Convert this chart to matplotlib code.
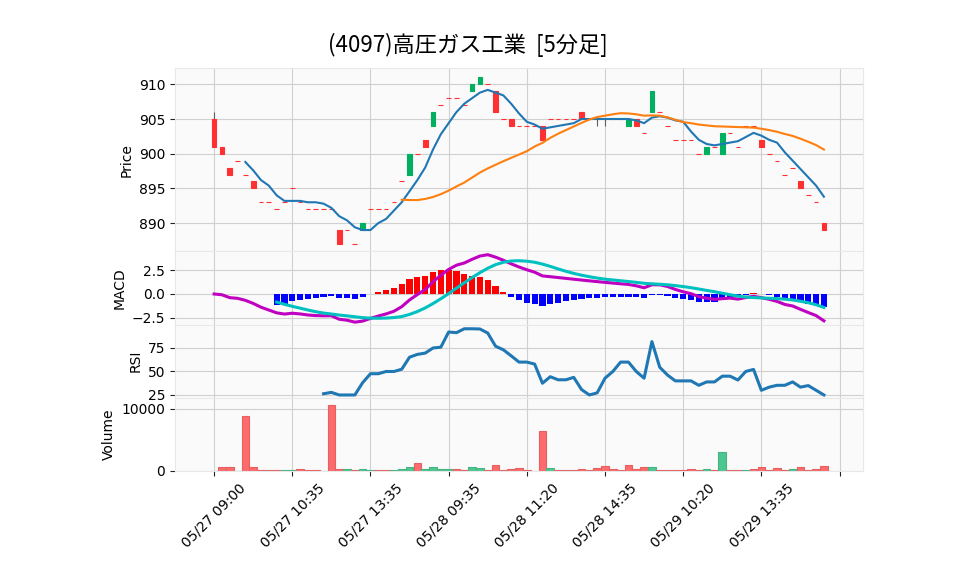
import numpy as np
import pandas as pd
import matplotlib
matplotlib.use('Agg')
import matplotlib.pyplot as plt

plt.rcParams['font.family'] = ['DejaVu Sans', 'Noto Sans CJK JP']

title = '(4097)高圧ガス工業  [5分足]'
tick_labels = ['05/27 09:00', '05/27 10:35', '05/27 13:35', '05/28 09:35',
               '05/28 11:20', '05/28 14:35', '05/29 10:20', '05/29 13:35']

# 5-minute bars
opens = [905, 901, 898, 899, 897, 896, 893, 893, 892, 893,
         895, 893, 892, 892, 892, 892, 889, 889, 887, 889,
         892, 892, 892, 893, 896, 897, 900, 902, 904, 907,
         908, 908, 907, 909, 910, 910, 909, 905, 905, 904,
         904, 904, 904, 905, 905, 905, 905, 906, 905, 905,
         905, 905, 905, 904, 905, 903, 906, 906, 904, 902,
         902, 902, 900, 900, 901, 900, 903, 901, 904, 904,
         902, 900, 899, 897, 898, 896, 894, 893, 890]
closes = [901, 900, 897, 899, 897, 895, 893, 893, 892, 893,
          895, 893, 892, 892, 892, 892, 887, 889, 887, 890,
          892, 892, 892, 893, 896, 900, 900, 901, 906, 907,
          908, 908, 907, 910, 911, 910, 906, 905, 904, 904,
          904, 904, 902, 905, 905, 905, 905, 905, 905, 905,
          905, 905, 905, 905, 904, 903, 909, 906, 904, 902,
          902, 902, 900, 901, 901, 903, 903, 901, 904, 904,
          901, 900, 899, 897, 898, 895, 894, 893, 889]
highs = [906, 901, 898, 899, 897, 896, 893, 893, 892, 893,
         895, 893, 892, 892, 892, 892, 889, 889, 887, 890,
         892, 892, 892, 893, 896, 900, 900, 902, 906, 907,
         908, 908, 907, 910, 911, 910, 909, 905, 905, 904,
         904, 904, 904, 905, 905, 905, 905, 906, 905, 905,
         905, 905, 905, 905, 905, 903, 909, 906, 904, 902,
         902, 902, 900, 901, 901, 903, 903, 901, 904, 904,
         902, 900, 899, 897, 898, 896, 894, 893, 890]
lows = [901, 900, 897, 899, 897, 895, 893, 893, 892, 893,
        895, 893, 892, 892, 892, 892, 887, 889, 887, 889,
        892, 892, 892, 893, 896, 897, 900, 901, 904, 907,
        908, 908, 907, 909, 910, 910, 906, 905, 904, 904,
        904, 904, 902, 905, 905, 905, 905, 905, 905, 904,
        904, 905, 905, 904, 904, 903, 906, 906, 904, 902,
        902, 902, 900, 900, 901, 900, 903, 901, 904, 904,
        901, 900, 899, 897, 898, 895, 894, 893, 889]
volumes = [0, 600, 700, 0, 8800, 600, 100, 100, 100, 100,
           200, 300, 100, 100, 0, 10600, 400, 300, 100, 300,
           100, 200, 100, 100, 300, 600, 1300, 300, 600, 300,
           300, 300, 100, 700, 500, 100, 1000, 100, 300, 500,
           100, 0, 6500, 500, 100, 100, 100, 300, 100, 500,
           800, 400, 100, 1000, 400, 600, 700, 100, 100, 100,
           100, 300, 100, 300, 100, 3100, 100, 100, 100, 300,
           600, 100, 500, 100, 400, 700, 100, 300, 800]

df = pd.DataFrame({'Open': opens, 'High': highs, 'Low': lows,
                   'Close': closes, 'Volume': volumes})
x = np.arange(len(df))

# indicators
df['ma5'] = df['Close'].rolling(5).mean()
df['ma25'] = df['Close'].rolling(25).mean()
exp12 = df['Close'].ewm(span=12, adjust=False).mean()
exp26 = df['Close'].ewm(span=26, adjust=False).mean()
df['macd'] = exp12 - exp26
df['signal'] = df['macd'].rolling(9).mean()
df['hist'] = df['macd'] - df['signal']
diff = df['Close'].diff()
up = diff.clip(lower=0).rolling(14).mean()
down = (-diff.clip(upper=0)).rolling(14).mean()
df['rsi'] = 100 * up / (up + down)

UP, DOWN = '#00b060', '#fe3032'
VUP, VDOWN = '#4dc790', '#fd6b6c'
VUP_E, VDOWN_E = '#45b382', '#e46061'
BG, GRID = '#fafafa', '#d0d0d0'

fig = plt.figure(figsize=(9.58, 5.75), dpi=100)
left, width = 175 / 958, 688 / 958
bounds = [68, 251.2, 324.5, 397.8, 471]
axes = []
for i in range(4):
    b = 1 - bounds[i + 1] / 575
    h = (bounds[i + 1] - bounds[i]) / 575
    ax = fig.add_axes([left, b, width, h])
    ax.set_facecolor(BG)
    ax.grid(True, color=GRID, linewidth=0.8)
    ax.set_axisbelow(True)
    for s in ax.spines.values():
        s.set_color('#e8e8e8')
    ax.set_xlim(-5, 83)
    ax.set_xticks(np.arange(0, 81, 10))
    ax.tick_params(labelsize=10, color='#222222')
    axes.append(ax)
ax_p, ax_m, ax_r, ax_v = axes

# candles
cup = df['Close'] > df['Open']
ccol = np.where(cup, UP, DOWN)
ax_p.vlines(x, df['Low'], df['High'], color='#606060', linewidth=0.8, zorder=2)
ax_p.bar(x, df['Close'] - df['Open'], bottom=df['Open'], width=0.6,
         color=ccol, edgecolor=ccol, linewidth=0.8, zorder=3)
ax_p.plot(x, df['ma5'], color='#1f77b4', linewidth=1.5, zorder=4)
ax_p.plot(x, df['ma25'], color='#ff7f0e', linewidth=1.5, zorder=4)
ax_p.set_ylim(885.95, 912.35)
ax_p.set_yticks([890, 895, 900, 905, 910])
ax_p.set_ylabel('Price', fontsize=10)

# MACD
hcol = ['red' if v >= 0 else 'blue' for v in df['hist'].fillna(0)]
ax_m.bar(x, df['hist'], width=0.8, color=hcol, zorder=2)
ax_m.plot(x, df['macd'], color='#c000c0', linewidth=2.2, zorder=3)
ax_m.plot(x, df['signal'], color='#00c0c0', linewidth=2.2, zorder=3)
ax_m.set_ylim(-3.18, 4.46)
ax_m.set_yticks([-2.5, 0, 2.5])
ax_m.set_ylabel('MACD', fontsize=10)

# RSI
ax_r.plot(x, df['rsi'], color='#1f77b4', linewidth=2.2)
ax_r.set_ylim(22, 100)
ax_r.set_yticks([25, 50, 75])
ax_r.set_ylabel('RSI', fontsize=10)

# volume
prev = df['Close'].shift(1)
vup = df['Close'] > prev
ax_v.bar(x, df['Volume'], width=0.98, color=np.where(vup, VUP, VDOWN),
         edgecolor=np.where(vup, VUP_E, VDOWN_E), linewidth=0.8, zorder=2)
ax_v.set_ylim(0, 11800)
ax_v.set_yticks([0, 10000])
ax_v.set_ylabel('Volume', fontsize=10)

for ax in (ax_p, ax_m, ax_r):
    ax.tick_params(labelbottom=False, bottom=False)
ax_v.set_xticklabels(tick_labels + [''], rotation=45)

fig.text(468 / 958, 1 - 45 / 575, title, fontsize=16, ha='center', va='center',
         family=['Noto Sans CJK JP', 'DejaVu Sans'])

fig.savefig('out.png', dpi=100)
